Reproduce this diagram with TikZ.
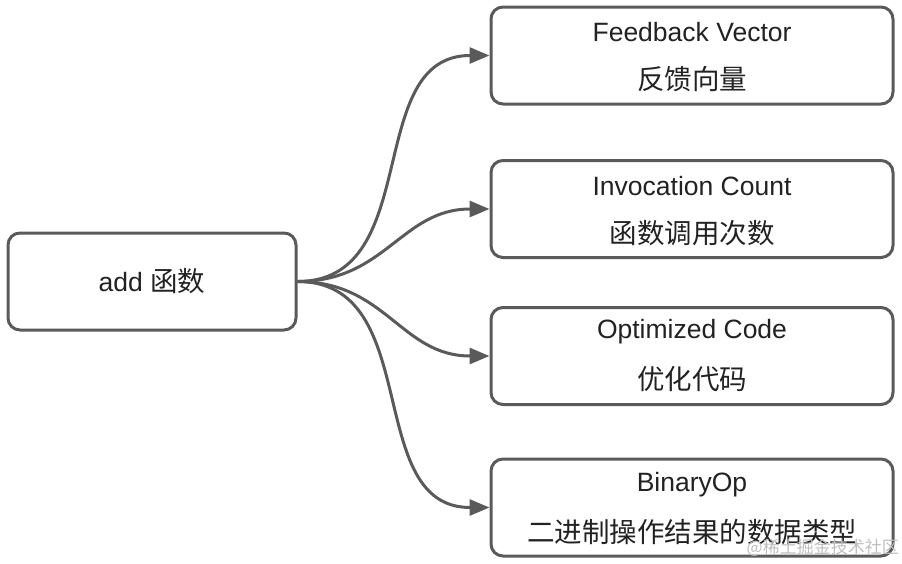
\documentclass[tikz,border=0pt]{standalone}
\usepackage{fontspec}
\setmainfont{Liberation Sans}
\newfontfamily\cjk{Noto Sans CJK SC}
\usetikzlibrary{arrows.meta}
\definecolor{edge}{HTML}{5A5A5A}
\definecolor{txt}{HTML}{222222}
\tikzset{
  box/.style={draw=edge, line width=3pt, rounded corners=12pt, fill=white, inner sep=0pt},
  lbl/.style={text=txt, font=\fontsize{26.5}{30}\selectfont, inner sep=0pt},
  zh/.style={text=txt, font=\cjk\fontsize{27.5}{30}\selectfont, inner sep=0pt},
  conn/.style={draw=edge, line width=3pt, -{Triangle[length=20pt,width=16pt]}, out=0, in=180, looseness=1.1},
}
\begin{document}
\begin{tikzpicture}[x=1pt,y=-1pt]
\useasboundingbox (0,0) rectangle (902,563);
\node[box, minimum width=288pt, minimum height=97pt] (src) at (152,281.5) {};
\node[lbl] (srct) at (152,281.5) {add {\cjk\fontsize{27.5}{30}\selectfont 函数}};
\node[box, minimum width=402pt, minimum height=97pt] (b1) at (692,55.5) {};
\node[box, minimum width=402pt, minimum height=97pt] (b2) at (692,209) {};
\node[box, minimum width=402pt, minimum height=97pt] (b3) at (692,356) {};
\node[box, minimum width=402pt, minimum height=97pt] (b4) at (692,507.5) {};
\node[lbl] (t1a) at (692,32) {Feedback Vector};
\node[zh] (t1b) at (692,79) {反馈向量};
\node[lbl] (t2a) at (692,186) {Invocation Count};
\node[zh] (t2b) at (692,233) {函数调用次数};
\node[lbl] (t3a) at (692,332) {Optimized Code};
\node[zh] (t3b) at (692,379) {优化代码};
\node[lbl] (t4a) at (692,485) {BinaryOp};
\node[zh] (t4b) at (692,532) {二进制操作结果的数据类型};
\node[text=black!25, font=\cjk\fontsize{17}{20}\selectfont, inner sep=0pt, anchor=east] (wm) at (899,548) {@稀土掘金技术社区};
\draw[conn] (src.east) to (b1.west);
\draw[conn] (src.east) to (b2.west);
\draw[conn] (src.east) to (b3.west);
\draw[conn] (src.east) to (b4.west);
\end{tikzpicture}
\end{document}
